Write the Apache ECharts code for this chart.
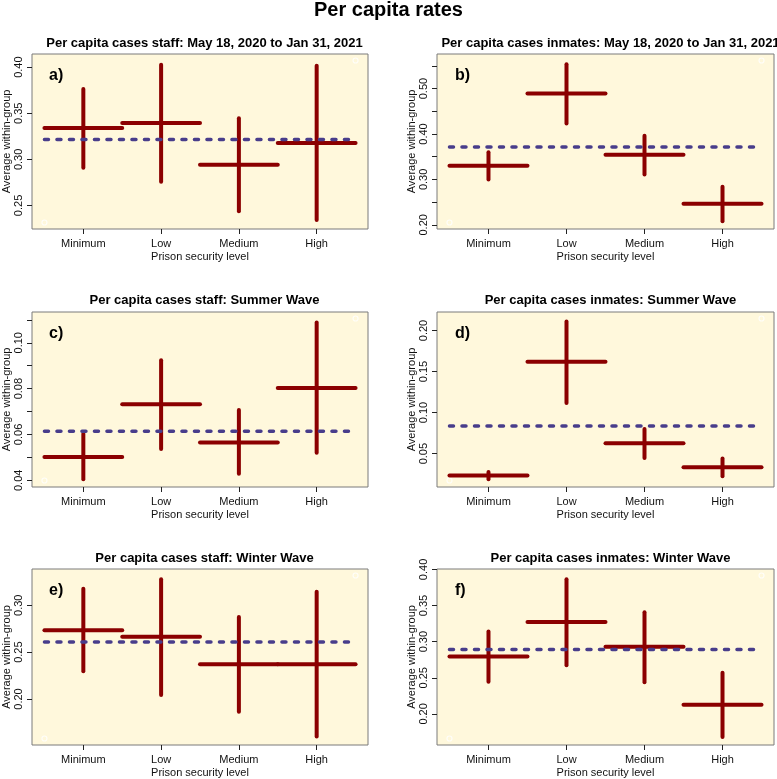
<!DOCTYPE html>
<html><head><meta charset="utf-8">
<script src="https://cdn.jsdelivr.net/npm/echarts@6/dist/echarts.min.js"></script>
<style>html,body{margin:0;padding:0;background:#fff}#c{width:777px;height:779px}</style>
</head><body><div id="c"></div>
<script>
// ---------- data ----------
const categories = ['Minimum', 'Low', 'Medium', 'High'];
const mainTitle = 'Per capita rates';
const panelTitles = [
  'Per capita cases staff: May 18, 2020 to Jan 31, 2021',
  'Per capita cases inmates: May 18, 2020 to Jan 31, 2021',
  'Per capita cases staff: Summer Wave',
  'Per capita cases inmates: Summer Wave',
  'Per capita cases staff: Winter Wave',
  'Per capita cases inmates: Winter Wave'
];
const panelTags = ['a)', 'b)', 'c)', 'd)', 'e)', 'f)'];
const xName = 'Prison security level';
const yName = 'Average within-group';

// a) staff, full period
const aMean = [0.334, 0.3395, 0.2942, 0.3178];
const aLower = [0.291, 0.2757, 0.2438, 0.2341];
const aUpper = [0.3764, 0.4025, 0.3446, 0.4014];
const aOverall = 0.3214;
const aRange = [0.2315, 0.4072];
const aTicks = [0.25, 0.30, 0.35, 0.40];
const aLabels = [0.25, 0.30, 0.35, 0.40];

// b) inmates, full period
const bMean = [0.330, 0.489, 0.3544, 0.2463];
const bLower = [0.300, 0.4228, 0.311, 0.2081];
const bUpper = [0.3596, 0.5537, 0.3963, 0.2838];
const bOverall = 0.3713;
const bRange = [0.2051, 0.5618];
const bTicks = [0.20, 0.25, 0.30, 0.35, 0.40, 0.45, 0.50, 0.55];
const bLabels = [0.20, 0.30, 0.40, 0.50];

// c) staff, summer wave
const cMean = [0.0502, 0.0732, 0.0565, 0.0803];
const cLower = [0.0405, 0.0537, 0.0428, 0.052];
const cUpper = [0.0603, 0.0924, 0.0707, 0.1089];
const cOverall = 0.0614;
const cRange = [0.0399, 0.1106];
const cTicks = [0.04, 0.05, 0.06, 0.07, 0.08, 0.09, 0.10, 0.11];
const cLabels = [0.04, 0.06, 0.08, 0.10];

// d) inmates, summer wave
const dMean = [0.0233, 0.1619, 0.0626, 0.0334];
const dLower = [0.0188, 0.1116, 0.0447, 0.0225];
const dUpper = [0.0277, 0.2109, 0.080, 0.0439];
const dOverall = 0.0837;
const dRange = [0.0172, 0.2146];
const dTicks = [0.05, 0.10, 0.15, 0.20];
const dLabels = [0.05, 0.10, 0.15, 0.20];

// e) staff, winter wave
const eMean = [0.2734, 0.2665, 0.237, 0.237];
const eLower = [0.2295, 0.2043, 0.1863, 0.1601];
const eUpper = [0.3176, 0.3277, 0.2874, 0.3144];
const eOverall = 0.2608;
const eRange = [0.1579, 0.3317];
const eTicks = [0.20, 0.25, 0.30];
const eLabels = [0.20, 0.25, 0.30];

// f) inmates, winter wave
const fMean = [0.2794, 0.3271, 0.293, 0.2126];
const fLower = [0.2444, 0.2673, 0.2439, 0.1678];
const fUpper = [0.314, 0.3864, 0.3407, 0.257];
const fOverall = 0.2893;
const fRange = [0.1659, 0.3916];
const fTicks = [0.20, 0.25, 0.30, 0.35, 0.40];
const fLabels = [0.20, 0.25, 0.30, 0.35, 0.40];

// ---------- layout / style ----------
const boxes = [
  {left: 31, top: 54, h: 175}, {left: 437, top: 54, h: 175},
  {left: 31, top: 312, h: 175}, {left: 437, top: 312, h: 175},
  {left: 31, top: 569, h: 176}, {left: 437, top: 569, h: 176}
];
const boxW = 337;
const titleCenterY = [41.7, 41.7, 298.3, 298.3, 556.7, 556.7];
const FONT = 'Liberation Sans, Arial, Helvetica, sans-serif';
const RED = '#8B0000';
const BLUE = '#483D8B';
const BG = '#FFF8DC';

const panels = [
  {mean: aMean, lower: aLower, upper: aUpper, overall: aOverall, range: aRange, ticks: aTicks, labels: aLabels},
  {mean: bMean, lower: bLower, upper: bUpper, overall: bOverall, range: bRange, ticks: bTicks, labels: bLabels},
  {mean: cMean, lower: cLower, upper: cUpper, overall: cOverall, range: cRange, ticks: cTicks, labels: cLabels},
  {mean: dMean, lower: dLower, upper: dUpper, overall: dOverall, range: dRange, ticks: dTicks, labels: dLabels},
  {mean: eMean, lower: eLower, upper: eUpper, overall: eOverall, range: eRange, ticks: eTicks, labels: eLabels},
  {mean: fMean, lower: fLower, upper: fUpper, overall: fOverall, range: fRange, ticks: fTicks, labels: fLabels}
];

const catPos = categories.map((c, i) => i + 1);   // 1..4
const xLo = 0.5, xHi = categories.length + 0.5;
const xPad = 0.04 * (xHi - xLo);

function crossRender(params, api) {
  const x = api.value(0), m = api.value(1), lo = api.value(2), hi = api.value(3);
  const pL = api.coord([x - 0.5, m]), pR = api.coord([x + 0.5, m]);
  const pT = api.coord([x, hi]), pB = api.coord([x, lo]);
  const style = {stroke: RED, lineWidth: 4, lineCap: 'round'};
  return {type: 'group', children: [
    {type: 'line', shape: {x1: pL[0], y1: pL[1], x2: pR[0], y2: pR[1]}, style: style},
    {type: 'line', shape: {x1: pT[0], y1: pT[1], x2: pB[0], y2: pB[1]}, style: style}
  ]};
}
function dashRender(params, api) {
  const p1 = api.coord([api.value(0), api.value(2)]);
  const p2 = api.coord([api.value(1), api.value(2)]);
  return {type: 'line', shape: {x1: p1[0], y1: p1[1], x2: p2[0], y2: p2[1]},
    style: {stroke: BLUE, lineWidth: 3.5, lineCap: 'round', lineDash: [4, 8.5]}};
}

const grid = [], xAxis = [], yAxis = [], series = [];
const title = [{
  text: mainTitle, left: 'center', top: -5,
  textStyle: {fontFamily: FONT, fontSize: 20, fontWeight: 'bold', color: '#000'}
}];

panels.forEach((p, k) => {
  const b = boxes[k];
  grid.push({left: b.left, top: b.top, width: boxW, height: b.h, show: true,
    backgroundColor: BG, borderColor: '#7a7a7a', borderWidth: 1});
  const yPad = 0.04 * (p.range[1] - p.range[0]);
  xAxis.push({
    type: 'value', gridIndex: k, min: xLo - xPad, max: xHi + xPad,
    axisLine: {show: false}, splitLine: {show: false},
    axisTick: {show: true, customValues: catPos, length: 5, lineStyle: {color: '#222'}},
    axisLabel: {customValues: catPos, margin: 9, fontFamily: FONT, fontSize: 11, color: '#111',
      formatter: v => categories[Math.round(v) - 1]},
    name: xName, nameLocation: 'middle', nameGap: 22,
    nameTextStyle: {fontFamily: FONT, fontSize: 11, color: '#111'}
  });
  yAxis.push({
    type: 'value', gridIndex: k, min: p.range[0] - yPad, max: p.range[1] + yPad,
    axisLine: {show: false}, splitLine: {show: false},
    axisTick: {show: true, customValues: p.ticks, length: 5, lineStyle: {color: '#222'}},
    axisLabel: {customValues: p.labels, rotate: 90, margin: 8, fontFamily: FONT, fontSize: 11, color: '#111',
      formatter: v => v.toFixed(2)},
    name: yName, nameLocation: 'middle', nameGap: 20, nameRotate: 90,
    nameTextStyle: {fontFamily: FONT, fontSize: 11, color: '#111'}
  });
  title.push({
    text: panelTitles[k], left: b.left + boxW / 2, top: titleCenterY[k] - 9.5, textAlign: 'center',
    textStyle: {fontFamily: FONT, fontSize: 13, fontWeight: 'bold', color: '#000'}
  });
  title.push({
    text: panelTags[k], left: b.left + 13, top: b.top + 9,
    textStyle: {fontFamily: FONT, fontSize: 16, fontWeight: 'bold', color: '#000'}
  });
  series.push({
    type: 'scatter', xAxisIndex: k, yAxisIndex: k, symbol: 'circle', symbolSize: 5,
    itemStyle: {color: 'rgba(0,0,0,0)', borderColor: '#ffffff', borderWidth: 1.2},
    data: [[xLo, p.range[0]], [xHi, p.range[1]]], silent: true, z: 1
  });
  series.push({
    type: 'custom', xAxisIndex: k, yAxisIndex: k, renderItem: crossRender, z: 2,
    data: catPos.map((x, i) => [x, p.mean[i], p.lower[i], p.upper[i]])
  });
  series.push({
    type: 'custom', xAxisIndex: k, yAxisIndex: k, renderItem: dashRender, z: 3,
    data: [[xLo, xHi, p.overall]]
  });
});

const chart = echarts.init(document.getElementById('c'), null, {renderer: 'canvas'});
chart.setOption({animation: false, backgroundColor: '#fff', title, grid, xAxis, yAxis, series});
</script></body></html>
